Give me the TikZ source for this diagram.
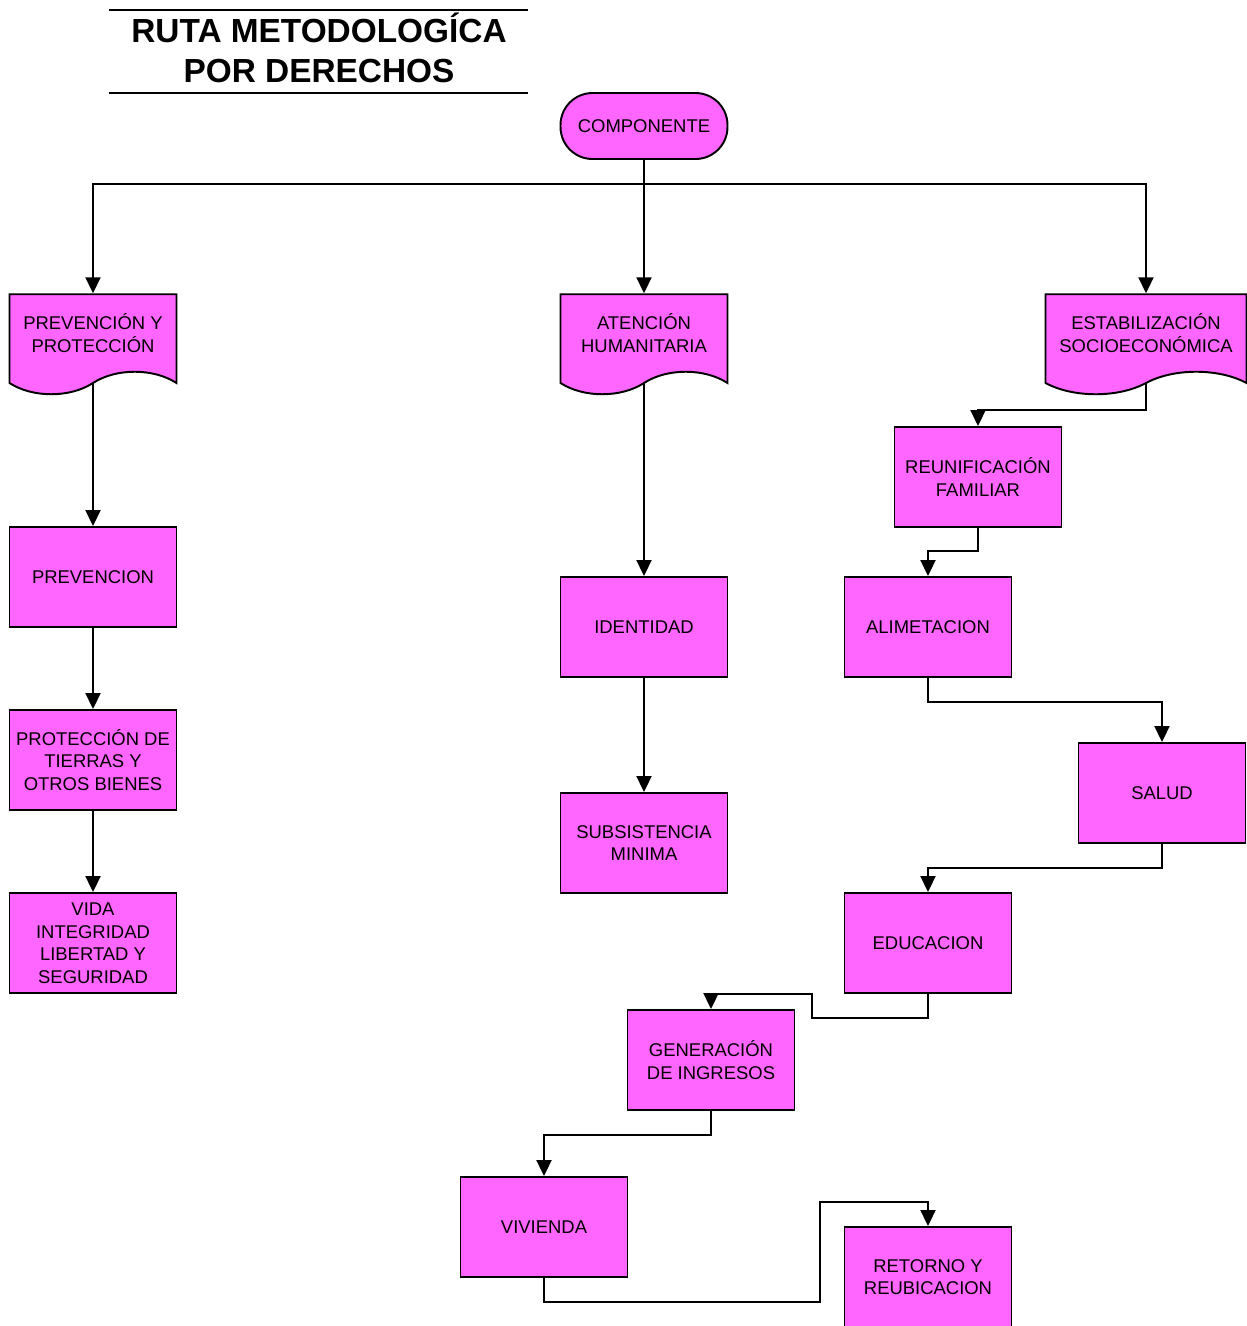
\documentclass[tikz,border=0pt]{standalone}
\usepackage{fontspec}
\setmainfont{Liberation Sans}
\usetikzlibrary{arrows.meta,shapes.symbols,backgrounds}
\definecolor{boxpink}{RGB}{255,102,255}

\tikzset{
  box/.style = {draw, line width=1.1pt, fill=boxpink, minimum width=3.34cm, minimum height=2cm, align=center, inner sep=1pt, font=\fontsize{10.5}{12.8}\selectfont},
  docbox/.style = {box, shape=tape, tape bend top=none, tape bend bottom=in and out, tape bend height=0.45cm},
  termbox/.style = {box, rounded corners=0.64cm, minimum height=1.32cm},
  conn/.style = {line width=1.1pt, -{Triangle[width=0.3cm,length=0.32cm]}}
}

\begin{document}
\begin{tikzpicture}[x = 0.02cm, y = -0.02cm]
\useasboundingbox (0,0) rectangle (1247,1326);
\clip (0,0) rectangle (1247,1326);
\draw[line width=1.1pt] (109,10) - - (528,10);
\draw[line width=1.1pt] (109,93) - - (528,93);
\node[align=center, font=\fontsize{19}{22.7}\selectfont\bfseries] (title) at (319,48) {RUTA METODOLOGÍCA\\POR DERECHOS};
\node[termbox] (comp) at (644,126) {COMPONENTE};
\node[docbox] (prevprot) at (93,333) {PREVENCIÓN Y\\PROTECCIÓN};
\node[docbox] (aten) at (644,333) {ATENCIÓN\\HUMANITARIA};
\node[docbox, minimum width=4.02cm] (estab) at (1146,333) {ESTABILIZACIÓN\\SOCIOECONÓMICA};
\node[box] (prev) at (93,577) {PREVENCION};
\node[box] (tierras) at (93,760) {PROTECCIÓN DE\\TIERRAS Y\\OTROS BIENES};
\node[box] (vida) at (93,943) {VIDA\\INTEGRIDAD\\LIBERTAD Y\\SEGURIDAD};
\node[box] (ident) at (644,627) {IDENTIDAD};
\node[box] (subs) at (644,843) {SUBSISTENCIA\\MINIMA};
\node[box] (reunif) at (978,477) {REUNIFICACIÓN\\FAMILIAR};
\node[box] (alim) at (928,627) {ALIMETACION};
\node[box] (salud) at (1162,793) {SALUD};
\node[box] (educ) at (928,943) {EDUCACION};
\node[box] (gen) at (711,1060) {GENERACIÓN\\DE INGRESOS};
\node[box] (viv) at (544,1227) {VIVIENDA};
\node[box] (ret) at (928,1277) {RETORNO Y\\REUBICACION};
\coordinate (bus) at (644,184);
\begin{scope}[on background layer]
\draw[conn] (comp.south) - - (aten.north);
\draw[conn] (bus) -| (prevprot.north);
\draw[conn] (bus) -| (estab.north);
\draw[conn] (prevprot.center) - - (prev.north);
\draw[conn] (prev) - - (tierras);
\draw[conn] (tierras) - - (vida);
\draw[conn] (aten.center) - - (ident.north);
\draw[conn] (ident) - - (subs);
\draw[conn] (estab.center) - - (estab.center |- 0,410) -| (reunif.north);
\draw[conn] (reunif.south) - - (reunif.south |- 0,551) -| (alim.north);
\draw[conn] (alim.south) - - (alim.south |- 0,702) -| (salud.north);
\draw[conn] (salud.south) - - (salud.south |- 0,868) -| (educ.north);
\draw[conn] (educ.south) - - (educ.south |- 0,1018) - - (812,1018) - - (812,994) -| (gen.north);
\draw[conn] (gen.south) - - (gen.south |- 0,1135) -| (viv.north);
\draw[conn] (viv.south) - - (viv.south |- 0,1302) - - (820,1302) - - (820,1202) -| (ret.north);
\end{scope}
\end{tikzpicture}
\end{document}
